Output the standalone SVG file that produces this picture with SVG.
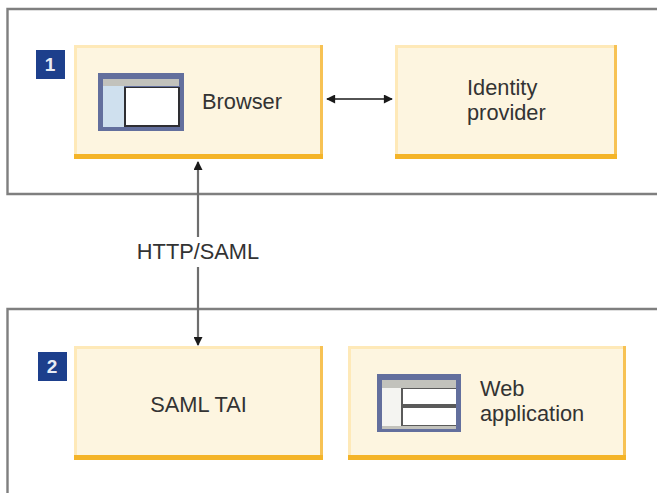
<svg xmlns="http://www.w3.org/2000/svg" width="657" height="493" viewBox="0 0 657 493">
<defs>
<marker id="ah" viewBox="0 0 10 10" refX="9" refY="5" markerWidth="10" markerHeight="9" markerUnits="userSpaceOnUse" orient="auto-start-reverse"><path d="M0 0L10 5L0 10Z" fill="#1a1a1a"/></marker>
</defs>
<style>
.frame{fill:none;stroke:#7f7f7f;stroke-width:2.4}
.box{fill:#fdf5e0}
.lt{fill:none;stroke:#fee9b8;stroke-width:3}
.rb{fill:none;stroke:#f7c254;stroke-width:3}
.bot{fill:#f4b428}
.t{font-family:"Liberation Sans",Arial,sans-serif;font-size:21.8px;fill:#333}
.badge{fill:#1d3f8c}
.bt{font-family:"Liberation Sans",Arial,sans-serif;font-size:19px;font-weight:700;fill:#e8ecf5;text-anchor:middle}
.c{fill:none;stroke:#6e6e6e;stroke-width:2.2}
.c2{fill:none;stroke:#1a1a1a;stroke-width:1.6}
</style>
<rect width="657" height="493" fill="#fff"/>
<g id="frame-1"><path class="frame" d="M657 9H7.500V194H657"/></g>
<g id="frame-2"><path class="frame" d="M657 309H7.500V493"/></g>
<g id="badge-1"><rect class="badge" x="36" y="50" width="29" height="29"/><text class="bt" x="50" y="71">1</text></g>
<g id="badge-2"><rect class="badge" x="38" y="352" width="29" height="29"/><text class="bt" x="52" y="373">2</text></g>
<g id="browser">
<rect class="box" x="74" y="45" width="249" height="113"/>
<path class="lt" d="M75.500 157V46.500H321"/><path class="rb" d="M321.500 45V158"/><rect class="bot" x="74" y="154" width="249" height="5"/>
<rect x="98" y="73" width="86" height="58" fill="#636f9d"/>
<rect x="103" y="79" width="76" height="7" fill="#c2c2bc"/>
<rect x="103" y="86" width="21" height="41" fill="#cfe0ee"/>
<rect x="124" y="87" width="56" height="40" fill="#2e2e32"/>
<rect x="126" y="88" width="52" height="37" fill="#fff"/>
<text class="t" x="202" y="109">Browser</text>
</g>
<g id="identity-provider">
<rect class="box" x="395" y="45" width="222" height="113"/>
<path class="lt" d="M396.500 157V46.500H615"/><path class="rb" d="M615.500 45V158"/><rect class="bot" x="395" y="154" width="222" height="5"/>
<text class="t" x="467" y="95">Identity</text>
<text class="t" x="467" y="120">provider</text>
</g>
<g id="saml-tai">
<rect class="box" x="74" y="346" width="249" height="113"/>
<path class="lt" d="M75.500 458V347.500H321"/><path class="rb" d="M321.500 346V459"/><rect class="bot" x="74" y="455" width="249" height="5"/>
<text class="t" x="198.500" y="412" text-anchor="middle">SAML TAI</text>
</g>
<g id="web-application">
<rect class="box" x="348" y="346" width="278" height="113"/>
<path class="lt" d="M349.500 458V347.500H624"/><path class="rb" d="M624.500 346V459"/><rect class="bot" x="348" y="455" width="278" height="5"/>
<rect x="377" y="374" width="84" height="58" fill="#636f9d"/>
<rect x="382" y="380" width="74" height="8" fill="#c2c2bc"/>
<rect x="382" y="388" width="20" height="38" fill="#f4f4f1"/>
<rect x="382" y="426" width="74" height="3" fill="#c2c2bc"/>
<rect x="401" y="388" width="55" height="38" fill="#5a5a5a"/>
<rect x="403" y="389" width="53" height="15" fill="#fff"/>
<rect x="403" y="408" width="53" height="17" fill="#fff"/>
<text class="t" x="480" y="396">Web</text>
<text class="t" x="480" y="421">application</text>
</g>
<g id="connectors">
<path class="c" d="M198 162V345" marker-start="url(#ah)" marker-end="url(#ah)"/>
<path class="c2" d="M327 99H392" marker-start="url(#ah)" marker-end="url(#ah)"/>
</g>
<rect x="134" y="237" width="128" height="30" fill="#fff"/>
<text class="t" x="198" y="259" text-anchor="middle">HTTP/SAML</text>
</svg>
